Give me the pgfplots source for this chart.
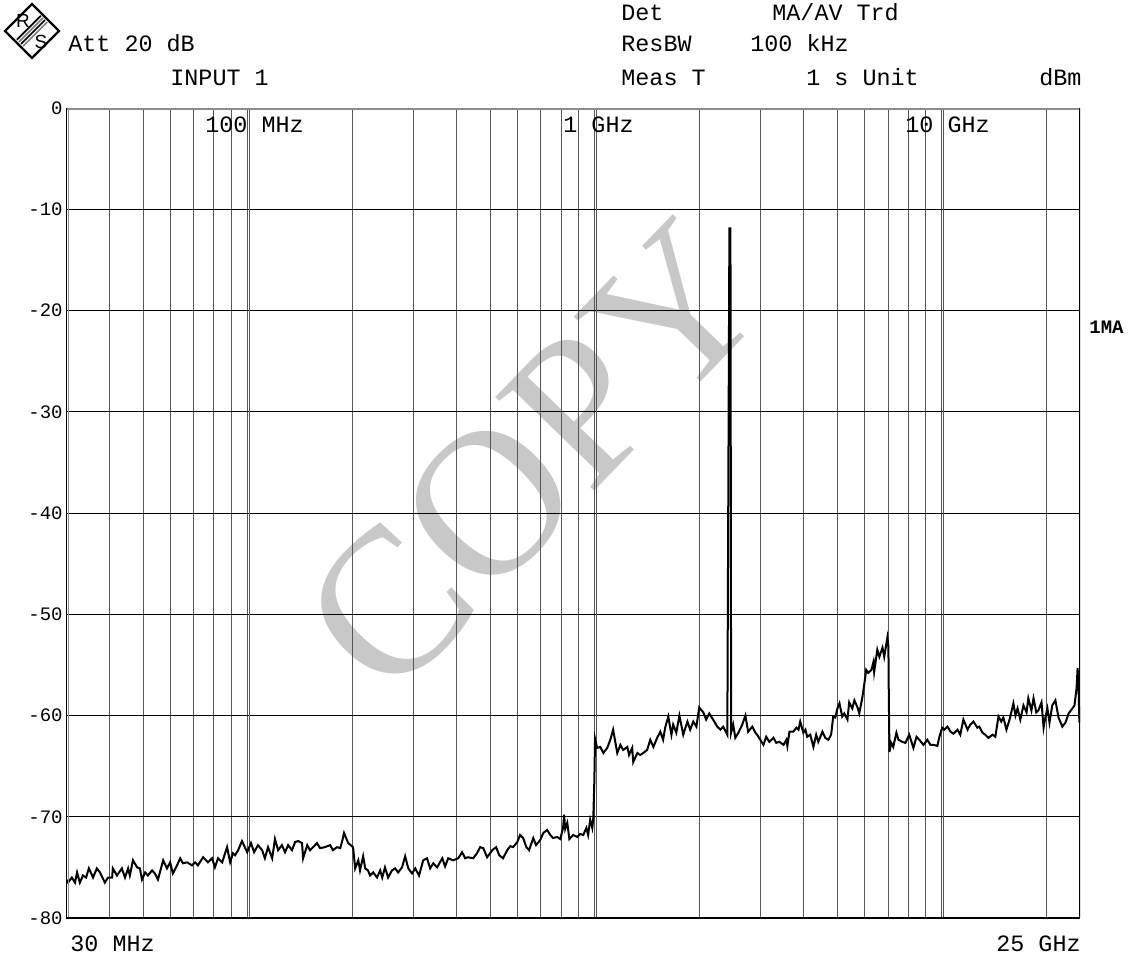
\documentclass[border=0pt]{standalone}
\usepackage{pgfplots}
\pgfplotsset{compat=1.18}
\usepackage{fontspec}
\setmainfont{Liberation Serif}
\setmonofont{Liberation Mono}
\setsansfont{Liberation Sans}
\definecolor{gridgray}{RGB}{85,85,85}
\definecolor{framegray}{RGB}{140,140,140}
\definecolor{copygray}{RGB}{200,200,200}
\newcommand{\hdr}{\ttfamily\fontsize{11.7}{14}\selectfont}
\tikzset{hd/.style={anchor=base west, inner sep=0pt, font=\hdr}}
\begin{document}
\begin{tikzpicture}
% reference pixel grid, y downwards
\begin{scope}[x=0.5pt,y=-0.5pt]
\path (0,0) rectangle (1134,956);
\node[rotate=46, text=copygray, font=\rmfamily\fontsize{104}{104}\selectfont, inner sep=0pt] at (533,458) {COPY};
\end{scope}
\begin{axis}[
  at={(33pt,-459pt)}, anchor=south west,
  scale only axis, width=507pt, height=405pt,
  xmin=7.4771, xmax=10.3979, ymin=-80, ymax=0,
  axis line style={draw=none},
  major tick length=0pt,
  % log10(f/Hz) positions: 40M ... 20G
  xtick={7.6021,7.6990,7.7782,7.8451,7.9031,7.9542,8.0,
         8.3010,8.4771,8.6021,8.6990,8.7782,8.8451,8.9031,8.9542,9.0,
         9.3010,9.4771,9.6021,9.6990,9.7782,9.8451,9.9031,9.9542,10.0,10.3010},
  xticklabels={},
  extra x ticks={8.005,9.005,10.005},
  extra x tick labels={},
  extra x tick style={grid=major, major tick length=0pt},
  ytick={-80,-70,...,0},
  yticklabels={-80,-70,-60,-50,-40,-30,-20,-10,0},
  yticklabel style={font=\ttfamily\fontsize{9.5}{10}\selectfont, inner sep=0pt, xshift=-1.5pt},
  grid=major,
  x grid style={gridgray, line width=0.5pt},
  y grid style={black, line width=0.5pt},
]
\addplot[black, line width=1pt] table {
x y
7.478 -76.2
7.483 -76.5
7.494 -76.0
7.503 -76.5
7.509 -75.5
7.517 -76.5
7.526 -75.8
7.535 -76.0
7.543 -75.1
7.555 -76.0
7.566 -75.1
7.575 -75.5
7.589 -76.5
7.598 -76.0
7.610 -76.0
7.612 -75.1
7.624 -75.8
7.638 -75.1
7.647 -76.0
7.656 -75.1
7.661 -75.8
7.670 -74.3
7.682 -75.0
7.690 -75.1
7.696 -76.2
7.705 -75.5
7.713 -75.8
7.725 -75.3
7.733 -75.6
7.742 -76.2
7.757 -74.3
7.768 -75.1
7.777 -74.5
7.785 -75.6
7.797 -74.8
7.806 -74.1
7.814 -74.6
7.826 -74.5
7.840 -74.8
7.849 -74.5
7.857 -74.8
7.872 -74.0
7.886 -74.5
7.898 -74.1
7.906 -75.0
7.915 -74.1
7.927 -74.5
7.941 -73.0
7.950 -74.5
7.958 -73.6
7.964 -73.8
7.973 -73.3
7.984 -72.4
7.999 -73.5
8.010 -72.6
8.019 -73.5
8.030 -72.8
8.042 -73.3
8.050 -74.1
8.059 -73.0
8.071 -74.1
8.079 -72.2
8.088 -73.3
8.099 -72.8
8.108 -73.5
8.117 -72.8
8.128 -73.3
8.137 -72.5
8.146 -72.4
8.157 -72.6
8.160 -74.1
8.172 -72.8
8.180 -73.3
8.189 -73.0
8.200 -72.6
8.209 -73.1
8.223 -73.0
8.238 -72.8
8.246 -73.3
8.258 -73.0
8.267 -73.1
8.272 -72.5
8.278 -71.6
8.290 -72.6
8.304 -73.0
8.310 -75.1
8.319 -74.3
8.324 -75.3
8.333 -73.9
8.339 -75.1
8.347 -75.3
8.353 -75.8
8.362 -75.5
8.373 -76.0
8.382 -75.3
8.388 -76.0
8.396 -75.0
8.405 -76.0
8.416 -75.3
8.425 -75.1
8.434 -75.5
8.445 -75.0
8.454 -73.9
8.463 -75.1
8.474 -75.6
8.483 -75.1
8.494 -75.8
8.506 -74.3
8.517 -74.1
8.526 -75.1
8.535 -74.6
8.546 -75.0
8.561 -74.1
8.569 -74.9
8.578 -74.1
8.592 -74.3
8.607 -74.1
8.618 -73.5
8.627 -74.1
8.635 -74.0
8.650 -74.1
8.661 -73.6
8.670 -73.0
8.679 -73.1
8.690 -74.0
8.705 -73.3
8.716 -73.0
8.725 -73.8
8.736 -74.1
8.748 -73.3
8.757 -72.9
8.765 -73.0
8.777 -72.5
8.785 -71.8
8.794 -72.1
8.803 -73.0
8.811 -73.3
8.823 -72.1
8.831 -72.8
8.843 -72.3
8.852 -71.6
8.863 -71.3
8.872 -71.8
8.880 -72.1
8.892 -72.0
8.901 -72.2
8.909 -71.1
8.912 -69.8
8.915 -71.2
8.921 -70.6
8.927 -72.2
8.938 -71.8
8.950 -72.0
8.958 -71.7
8.967 -71.8
8.976 -71.1
8.981 -71.8
8.987 -70.3
8.993 -71.1
8.996 -70.1
8.999 -66.4
9.001 -62.3
9.007 -63.2
9.016 -63.1
9.025 -63.7
9.036 -63.2
9.045 -62.4
9.053 -61.4
9.065 -63.7
9.074 -62.9
9.082 -63.4
9.094 -63.1
9.099 -63.9
9.108 -63.2
9.111 -64.6
9.123 -63.7
9.131 -63.9
9.140 -63.7
9.151 -63.4
9.160 -62.4
9.169 -63.1
9.180 -62.2
9.189 -61.6
9.197 -62.4
9.203 -61.2
9.212 -60.1
9.221 -61.9
9.226 -60.9
9.235 -61.7
9.244 -60.0
9.255 -61.9
9.267 -60.6
9.275 -61.4
9.284 -60.6
9.293 -61.1
9.301 -59.2
9.313 -59.7
9.321 -60.4
9.330 -59.8
9.341 -60.4
9.353 -61.1
9.362 -61.4
9.370 -61.1
9.382 -61.9
9.385 -36.5
9.388 -11.9
9.391 -11.9
9.393 -61.7
9.399 -60.9
9.405 -62.2
9.414 -61.7
9.425 -60.9
9.434 -60.0
9.442 -61.6
9.454 -61.1
9.463 -61.7
9.468 -61.9
9.477 -62.4
9.486 -62.9
9.494 -62.1
9.503 -62.6
9.515 -62.2
9.523 -62.7
9.532 -62.6
9.544 -62.9
9.552 -62.4
9.555 -63.0
9.561 -61.6
9.572 -61.6
9.581 -61.2
9.587 -61.4
9.592 -60.6
9.601 -61.7
9.607 -61.4
9.612 -62.1
9.621 -61.9
9.630 -63.1
9.638 -61.9
9.644 -62.6
9.656 -61.6
9.664 -62.2
9.673 -62.4
9.681 -61.9
9.687 -60.1
9.693 -60.2
9.699 -59.3
9.705 -58.8
9.713 -60.1
9.719 -59.8
9.728 -60.4
9.733 -58.7
9.742 -59.3
9.748 -58.5
9.757 -59.2
9.762 -59.8
9.771 -58.2
9.777 -56.8
9.782 -55.5
9.788 -55.8
9.797 -55.5
9.803 -54.7
9.805 -55.7
9.814 -53.5
9.820 -54.2
9.829 -53.3
9.834 -54.2
9.843 -52.3
9.846 -53.2
9.847 -57.5
9.849 -63.6
9.854 -62.7
9.860 -63.1
9.869 -61.7
9.875 -62.4
9.886 -62.6
9.895 -62.7
9.906 -61.9
9.918 -63.2
9.927 -62.1
9.935 -62.4
9.947 -62.9
9.958 -62.4
9.967 -62.9
9.976 -62.9
9.987 -63.0
9.993 -62.1
10.001 -61.2
10.007 -61.4
10.016 -61.1
10.025 -61.6
10.033 -61.8
10.045 -61.4
10.053 -61.9
10.062 -60.4
10.074 -61.4
10.082 -60.9
10.091 -60.6
10.102 -61.2
10.108 -61.1
10.117 -61.7
10.125 -61.9
10.134 -62.2
10.146 -61.9
10.154 -62.1
10.163 -60.1
10.171 -60.6
10.177 -60.2
10.186 -61.4
10.195 -60.4
10.206 -58.8
10.212 -60.0
10.218 -59.3
10.226 -60.4
10.235 -59.0
10.244 -59.7
10.249 -58.3
10.258 -59.5
10.264 -58.3
10.272 -59.7
10.278 -59.5
10.287 -58.7
10.293 -61.2
10.298 -60.2
10.304 -59.3
10.310 -60.7
10.318 -59.0
10.327 -58.5
10.336 -60.2
10.347 -61.1
10.356 -60.7
10.365 -59.8
10.376 -59.3
10.382 -59.0
10.388 -57.3
10.391 -55.3
10.394 -57.5
10.396 -60.7
};
% frame
\draw[framegray, line width=1.5pt] (rel axis cs:0,1) -- (rel axis cs:1,1);
\draw[framegray, line width=0.6pt] ([xshift=1.2pt]rel axis cs:0,0) -- ([xshift=1.2pt]rel axis cs:0,1);
\draw[black, line width=1.2pt] (rel axis cs:0,0) -- (rel axis cs:0,1);
\draw[framegray, line width=0.6pt] ([yshift=-1.4pt]rel axis cs:0,0) -- ([yshift=-1.4pt]rel axis cs:1,0);
\draw[black, line width=1.3pt] (rel axis cs:0,0) -- (rel axis cs:1,0);
\draw[black, line width=1.5pt] (rel axis cs:1,0) -- (rel axis cs:1,1);
\end{axis}
\begin{scope}[x=0.5pt,y=-0.5pt]
% logo
\draw[line width=1.2pt, fill=white] (32,4) -- (59,31) -- (32,58) -- (5,31) -- cycle;
\foreach \o/\c in {-4.5/black,-1.5/gray,1.5/black,4.5/gray}
  \draw[\c, line width=0.8pt] ({32+\o*0.707+12},{31+\o*0.707-12}) -- ({32+\o*0.707-12},{31+\o*0.707+12});
\node[font=\sffamily\fontsize{9.5}{9.5}\selectfont, inner sep=0pt] at (23,21) {R};
\node[font=\sffamily\fontsize{9.5}{9.5}\selectfont, inner sep=0pt] at (41,42) {S};
% header
\node[hd] at (621,21) {Det};
\node[hd] at (772,21) {MA/AV Trd};
\node[hd] at (68,52) {Att 20 dB};
\node[hd] at (621,52) {ResBW};
\node[hd] at (750,52) {100 kHz};
\node[hd] at (170,86) {INPUT 1};
\node[hd] at (621,86) {Meas T};
\node[hd] at (806,86) {1 s Unit};
\node[hd] at (1039,86) {dBm};
% decade labels inside the plot
\node[hd] at (205,133) {100 MHz};
\node[hd] at (563,133) {1 GHz};
\node[hd] at (905,133) {10 GHz};
% span
\node[hd] at (70,951) {30 MHz};
\node[hd, anchor=base east] at (1081,951) {25 GHz};
\node[anchor=west, inner sep=0pt, font=\ttfamily\bfseries\fontsize{9.5}{10}\selectfont] at (1089,327) {1MA};
\end{scope}
\end{tikzpicture}
\end{document}
